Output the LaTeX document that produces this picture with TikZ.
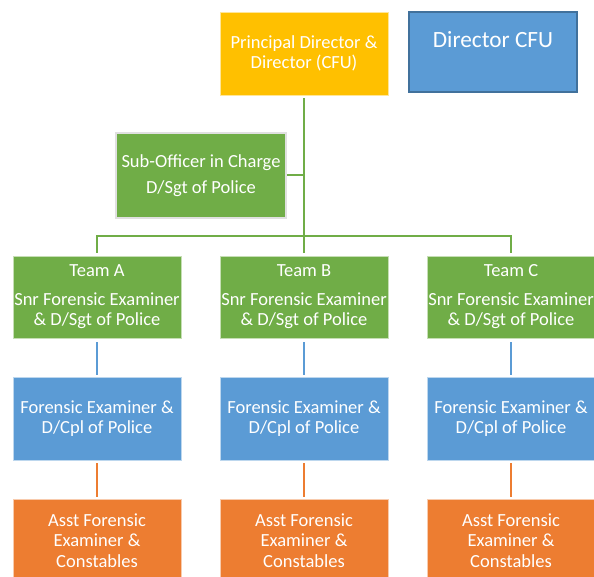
\documentclass[tikz,border=0pt]{standalone}
\usepackage{fontspec}
\setmainfont{Carlito}
\definecolor{cyel}{HTML}{FFC000}
\definecolor{cblue}{HTML}{5B9BD5}
\definecolor{cbluedk}{HTML}{41719C}
\definecolor{cgreen}{HTML}{70AD47}
\definecolor{corange}{HTML}{ED7D31}
\tikzset{
  box/.style={rectangle, minimum width=168pt, minimum height=83pt, inner sep=0pt,
    align=center, text=white, line width=0.8pt, font=\fontsize{18.5}{20.5}\selectfont},
  ybox/.style={box, fill=cyel, draw=cyel!40!white},
  gbox/.style={box, fill=cgreen, draw=cgreen!40!white, minimum height=82pt},
  bbox/.style={box, fill=cblue, draw=cblue!40!white},
  obox/.style={box, fill=corange, draw=corange!40!white},
  gline/.style={draw=cgreen, line width=2pt},
  bline/.style={draw=cblue, line width=2pt},
  oline/.style={draw=corange, line width=2pt},
}
\begin{document}
\begin{tikzpicture}[x=1pt,y=-1pt]
\useasboundingbox (0,0) rectangle (594,577);
\clip (0,0) rectangle (594,577);
% top
\node[ybox] (P) at (304,53.5) {Principal Director \&\\Director (CFU)};
\node[box, fill=cblue, draw=cbluedk, line width=2.2pt, minimum height=80pt,
  text height=36pt, text depth=44pt, font=\fontsize{23.3}{26}\selectfont]
  (D) at (493,52) {Director CFU};
\node[box, fill=cgreen, draw=black!12, line width=2pt, minimum width=170pt, minimum height=85pt]
  (S) at (201,175.5) {Sub-Officer in Charge\\[6pt]D/Sgt of Police};
% teams
\node[gbox] (TA) at (97,297) {Team A\\[8pt]Snr Forensic Examiner\\\& D/Sgt of Police};
\node[gbox] (TB) at (304,297) {Team B\\[8pt]Snr Forensic Examiner\\\& D/Sgt of Police};
\node[gbox] (TC) at (511,297) {Team C\\[8pt]Snr Forensic Examiner\\\& D/Sgt of Police};
\node[bbox] (FA) at (97,418.5) {Forensic Examiner \&\\D/Cpl of Police};
\node[bbox] (FB) at (304,418.5) {Forensic Examiner \&\\D/Cpl of Police};
\node[bbox] (FC) at (511,418.5) {Forensic Examiner \&\\D/Cpl of Police};
\node[obox] (OA) at (97,540.5) {Asst Forensic\\Examiner \&\\Constables};
\node[obox] (OB) at (304,540.5) {Asst Forensic\\Examiner \&\\Constables};
\node[obox] (OC) at (511,540.5) {Asst Forensic\\Examiner \&\\Constables};
% connectors
\coordinate (J) at (304,236);
\draw[gline, shorten <=3pt] (P.south) -- (J);
\draw[gline] (S.east) -- (S.east -| J);
\draw[gline, shorten >=3pt] (J) -| (TA.north);
\draw[gline, shorten >=3pt] (J) -| (TC.north);
\draw[gline, shorten >=3pt] (J) -- (TB.north);
\foreach \t/\f/\o in {TA/FA/OA,TB/FB/OB,TC/FC/OC}{
  \draw[bline, shorten <=4pt, shorten >=2pt] (\t.south) -- (\f.north);
  \draw[oline, shorten <=3pt, shorten >=2pt] (\f.south) -- (\o.north);
}
\end{tikzpicture}
\end{document}
